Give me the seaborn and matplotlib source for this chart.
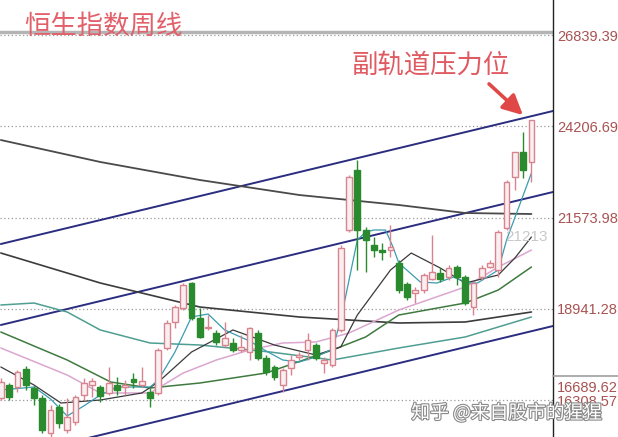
import matplotlib
matplotlib.use("Agg")
import matplotlib.pyplot as plt
import matplotlib.patheffects as pe
from matplotlib.lines import Line2D
import numpy as np
import seaborn as sns

# weekly candles (open, high, low, close)
opens = [16371, 16746, 16688, 17207, 16659, 16371, 15361, 16111, 15448, 15678,
         16457, 16746, 16688, 16515, 16746, 16688, 16919, 16746, 16544, 16515,
         17813, 18563, 18966, 19687, 18678, 18389, 18245, 17899, 17957, 17755,
         17697, 18245, 17524, 17265, 16746, 17236, 17553, 17755, 17899, 17380,
         17323, 18332, 21216, 22946, 21216, 20783, 20639, 20639, 20264, 19658,
         19399, 19485, 19803, 19976, 19860, 20149, 19860, 18995, 19860, 20149,
         20062, 21273, 22744, 23465, 23177]
highs = [16947, 16803, 17178, 17293, 16717, 16457, 16169, 16198, 16371, 16457,
         16947, 16947, 16746, 17265, 16976, 16890, 17092, 17265, 16659, 17813,
         18620, 19053, 19687, 19716, 18966, 18764, 18332, 18563, 18101, 18187,
         18418, 18332, 17611, 17323, 17236, 17611, 17697, 18245, 17957, 17553,
         18389, 20783, 22802, 23235, 21302, 21014, 20841, 21359, 20351, 19716,
         19572, 19976, 21072, 20120, 20206, 20206, 19918, 19716, 20206, 20351,
         21216, 22658, 23465, 24042, 24388]
lows = [16313, 16313, 16544, 16602, 16169, 15361, 15246, 15505, 15361, 15592,
        16313, 16400, 16255, 16457, 16457, 16457, 16659, 16688, 16111, 16457,
        17755, 18389, 18909, 18620, 18101, 18332, 17899, 17842, 17697, 17697,
        17467, 17467, 17034, 16890, 16544, 17034, 17467, 17467, 17467, 17092,
        17265, 18274, 21158, 20062, 20005, 20437, 20351, 20437, 19399, 19197,
        19110, 19399, 19774, 19716, 19774, 19630, 19053, 18764, 19774, 20120,
        19860, 21216, 22369, 22715, 22600]
closes = [16832, 16400, 17121, 16746, 16371, 15448, 16025, 15650, 15823, 16400,
          16803, 16861, 16429, 16803, 16602, 16746, 16832, 16861, 16371, 17755,
          18534, 18995, 19630, 18678, 18130, 18418, 17986, 18101, 17755, 17841,
          18389, 17524, 17121, 16976, 17178, 17467, 17611, 18043, 17524, 17467,
          18332, 20697, 22744, 21216, 20927, 20639, 20581, 20726, 19485, 19284,
          19485, 19918, 20005, 19803, 20120, 19860, 19110, 19687, 20120, 20264,
          21158, 22600, 23465, 22946, 24388]

# moving averages (week index, value)
ma5_x = [0, 4, 6, 8, 10, 12, 14, 18, 19, 21, 23, 25, 27, 30, 32, 34, 36, 38, 40,
         41, 43, 44, 45, 46.4, 47.3, 48, 50.6, 52.6, 54.6, 56.3, 57.5, 60, 61, 64]
ma5_y = [16601, 16688, 16342, 15852, 16140, 16457, 16688, 16688, 16890, 17697,
         18707, 18793, 18332, 18015, 17726, 17467, 17409, 17553, 17784, 18620,
         20927, 21158, 21216, 21216, 20726, 20264, 19716, 19687, 19860, 19687,
         19687, 20062, 20927, 22860]
ma10_x = [0, 4, 7.25, 12, 17, 19, 23, 28, 33, 38, 41, 43, 47, 49.5, 53, 56, 60, 62, 64]
ma10_y = [17265, 16746, 16226, 16313, 16515, 16832, 17697, 18332, 17899, 17611,
          17842, 18764, 20062, 20552, 20120, 19687, 19918, 20408, 21014]
ma20_x = [0, 8, 12, 18, 22, 26, 30, 34, 38, 42, 48, 56, 60, 64]
ma20_y = [17813, 17034, 16515, 16515, 17092, 17467, 17755, 17957, 17986, 18245,
          18909, 19572, 20149, 20639]
ma30_x = [0, 8, 13.25, 18, 24, 32, 40, 44, 48, 56, 60, 64]
ma30_y = [18274, 17467, 16832, 16659, 16803, 17092, 17755, 18130, 18764, 19110,
          19485, 20149]
ma60_x = [0, 4, 8, 12, 18, 24, 32.5, 40, 48, 56, 64]
ma60_y = [19053, 19110, 18851, 18332, 17957, 17899, 17697, 17467, 17813, 18130, 18707]
ma120_x = [0, 12, 24, 36, 48, 56, 64]
ma120_y = [20552, 19687, 18995, 18707, 18534, 18563, 18851]
ma250_x = [0, 12, 24, 36, 48, 56, 64]
ma250_y = [23811, 23177, 22658, 22225, 21937, 21706, 21677]

# channel lines (start / end)
chan_x = [0, 66.6]
chan_upper = [20812, 24648]
chan_mid = [18476, 22312]
chan_lower = [14611, 18447]

tick_vals = [26839.39, 24206.69, 21573.98, 18941.28, 16689.62, 16308.57]
grid_vals = [26839.39, 24206.69, 21573.98, 18941.28, 16308.57]

sns.set_style("white")
plt.rcParams['font.family'] = ['Noto Sans CJK SC', 'DejaVu Sans']

fig = plt.figure(figsize=(6.18, 4.37), dpi=100)
ax = fig.add_axes([0, 0, 553 / 618, 1])

for v in grid_vals:
    ax.axhline(v, color="#9a9a9a", lw=0.9, ls=(0, (1, 2)), zorder=0)
ax.axhline(26926, color="#b4b4b4", lw=2.5, zorder=0)

# channels
for ys in [chan_upper, chan_mid, chan_lower]:
    sns.lineplot(x=chan_x, y=ys, ax=ax, color="#2a2d80", lw=1.4, zorder=2)

# averages
lines = [(ma250_x, ma250_y, "#4a4a4a", 1.3), (ma120_x, ma120_y, "#3c3c3c", 1.2),
         (ma60_x, ma60_y, "#4f9e92", 1.1), (ma30_x, ma30_y, "#3f7a3f", 1.1),
         (ma20_x, ma20_y, "#dba6cf", 1.1), (ma10_x, ma10_y, "#3a3a3a", 0.9),
         (ma5_x, ma5_y, "#3a9cb0", 0.9)]
for xs, ys, c, w in lines:
    sns.lineplot(x=xs, y=ys, ax=ax, color=c, lw=w, zorder=3)

# candles
idx = np.arange(len(opens))
up_col, up_face, dn_col = "#d8848f", "#fbeef0", "#2a8a2e"
for i in idx:
    o, h, l, c = opens[i], highs[i], lows[i], closes[i]
    up = c >= o
    col = up_col if up else dn_col
    ax.vlines(i, l, h, color=col, lw=1.0, zorder=4)
    bot, top = min(o, c), max(o, c)
    hgt = max(top - bot, 35)
    ax.bar(i, hgt, bottom=bot, width=0.7, color=up_face if up else dn_col,
           edgecolor=col, lw=1.0, zorder=5)

ax.set_xlim(-0.1, 66.6)
ax.set_ylim(15246, 27849)
ax.set_xticks([])
ax.yaxis.tick_right()
ax.set_yticks(tick_vals)
ax.set_yticklabels(["%.2f" % v for v in tick_vals], family="Liberation Sans",
                   fontsize=10.5, color="#a85352")
ax.tick_params(axis="y", length=0, pad=3)
for s in ["left", "top", "bottom"]:
    ax.spines[s].set_visible(False)
ax.spines["right"].set_color("#222222")
ax.spines["right"].set_linewidth(1.0)

ax.text(0.043, 0.94, "恒生指数周线", transform=ax.transAxes, fontsize=19,
        color="#e2606a", va="center", ha="left")
ax.text(0.635, 0.851, "副轨道压力位", transform=ax.transAxes, fontsize=19,
        color="#e05a62", va="center", ha="left")
ax.annotate("", xy=(525 / 553, 1 - 117 / 437), xytext=(487 / 553, 1 - 82 / 437),
            xycoords="axes fraction",
            arrowprops=dict(arrowstyle="-|>", color="#e04848", lw=2.6,
                            mutation_scale=30))
ax.text(548 / 553, 1 - 237 / 437, "21213", transform=ax.transAxes, fontsize=11,
        color="#c8c8c8", ha="right", va="center", family="Liberation Sans")

fig.add_artist(Line2D([553 / 618, 1], [1 - 376 / 437] * 2, color="#a0a0a0", lw=1.2))

fig.text(0.82, 0.055, "知乎 @来自股市的猩猩", fontsize=13.5, color="white",
         ha="center", va="center",
         path_effects=[pe.withStroke(linewidth=1.6, foreground="#8a8a8a")])

fig.savefig("out.png", dpi=100)
